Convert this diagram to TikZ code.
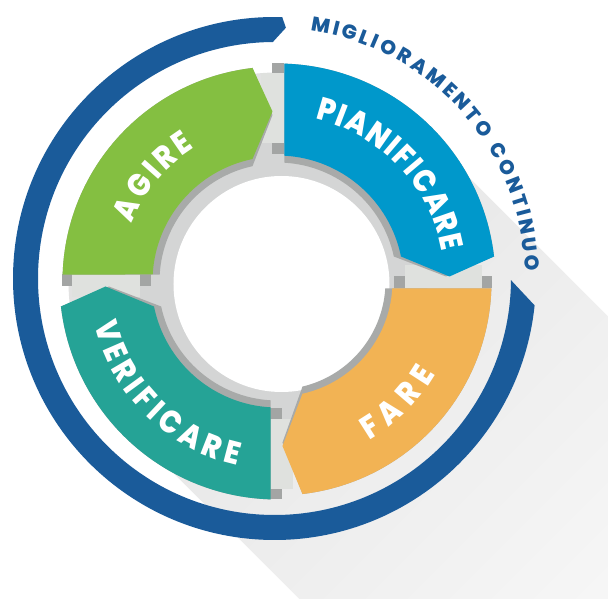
\documentclass[tikz,border=0pt]{standalone}
\usepackage{fontspec}
\setmainfont{Poppins}
\newfontfamily\heavyfont{Poppins ExtraBold}
\newfontfamily\heavynarrow{Poppins ExtraBold}[FakeStretch=0.88]
\usetikzlibrary{decorations.text}

\definecolor{ringblue}{RGB}{26,91,154}
\definecolor{planblue}{RGB}{0,152,203}
\definecolor{doorange}{RGB}{242,179,84}
\definecolor{checkteal}{RGB}{37,163,150}
\definecolor{actgreen}{RGB}{132,191,65}
\definecolor{hubgray}{RGB}{212,213,213}
\definecolor{bridgelight}{RGB}{223,225,222}
\definecolor{bridgedark}{RGB}{163,165,164}
\definecolor{segshadow}{RGB}{168,170,169}
\definecolor{castA}{RGB}{225,225,225}
\definecolor{castB}{RGB}{249,249,249}

% One ring segment, drawn in the frame of the top-right quadrant:
% flat start edge on x=7, pointed end around y=5.  #1 colour, #2 inner r, #3 outer r
\newcommand\segfill[3]{%
  \pgfmathsetmacro\aOF{acos(7/#3)}%
  \pgfmathsetmacro\aIF{acos(7/#2)}%
  \pgfmathsetmacro\aOC{asin(25/#3)}%
  \pgfmathsetmacro\aIC{asin(25/#2)}%
  \pgfmathsetmacro\rTip{(#2+#3)/2}%
  \fill[#1] (\aOF:#3) arc[start angle=\aOF, end angle=\aOC, radius=#3]
    -- (\rTip,5) -- (\aIC:#2) arc[start angle=\aIC, end angle=\aIF, radius=#2] -- cycle;
}

% Grey link in front of a segment's flat edge.  #1 inner r, #2 outer r
\newcommand\linkfill[2]{%
  \fill[bridgelight] (-16,#1+12) rectangle (7,#2-10);
  \fill[bridgedark] (-5,#2-10) rectangle (7,#2);
  \fill[bridgedark] (-5,#1+1) rectangle (7,#1+12);
}

\tikzset{
  seglabel/.style={decorate, decoration={text along path, text align={fit to path},
      text color=white, text={|\heavynarrow\fontsize{32}{32}\selectfont|#1}}},
  ringlabel/.style={decorate, decoration={text along path, text align={fit to path},
      text color=ringblue, text={|\heavyfont\fontsize{20}{20}\selectfont|#1}}}
}

\begin{document}
\begin{tikzpicture}[x=1pt,y=1pt]
\useasboundingbox (-277.5,-317.5) rectangle (330.5,281.5);
\fill[white] (-277.5,-317.5) rectangle (330.5,281.5);

% long cast shadow towards the lower right
\begin{scope}
  \clip (-277.5,-317.5) rectangle (330.5,281.5);
  \shade[top color=castA, bottom color=castB, shading angle=45]
    (45:209) arc[start angle=45, end angle=225, radius=209]
    -- ++(-45:480) -- ++(45:418) -- cycle;
\end{scope}

% outer arrow ring and its caption
\begin{scope}[shift={(-3,3)}]
  \fill[ringblue] (88.3:261.5) arc[start angle=88.3, end angle=354.1, radius=261.5]
    -- (359.6:236.5) arc[start angle=359.6, end angle=90.4, radius=236.5]
    -- (87.4:251) -- cycle;
  \path[ringlabel={MIGLIORAMENTO CONTINUO}]
    (81.8:250.5) arc[start angle=81.8, end angle=1.6, radius=250.5];
\end{scope}

% hub
\fill[hubgray] (0,0) circle[radius=150];
\fill[white] (4,-2.5) circle[radius=108];

% links between segments
\begin{scope}[rotate=0]\linkfill{126}{218}\end{scope}
\begin{scope}[rotate=-90]\linkfill{115}{214}\end{scope}
\begin{scope}[rotate=-180]\linkfill{126}{218}\end{scope}
\begin{scope}[rotate=-270]\linkfill{125}{215}\end{scope}

% segment shadows
\begin{scope}[rotate=0]\segfill{segshadow}{119}{218}\end{scope}
\begin{scope}[rotate=-90]\segfill{segshadow}{108}{214}\end{scope}
\begin{scope}[rotate=-180]\segfill{segshadow}{119}{218}\end{scope}
\begin{scope}[rotate=-270]\segfill{segshadow}{118}{215}\end{scope}

% segments
\begin{scope}[rotate=0]\segfill{planblue}{126}{218}\end{scope}
\begin{scope}[rotate=-90]\segfill{doorange}{115}{214}\end{scope}
\begin{scope}[rotate=-180]\segfill{checkteal}{126}{218}\end{scope}
\begin{scope}[rotate=-270]\segfill{actgreen}{125}{215}\end{scope}

% segment labels
\path[seglabel={PIANIFICARE}] (77:167) arc[start angle=77, end angle=10.2, radius=167];
\path[seglabel={FARE}] (-60:183) arc[start angle=-60, end angle=-30.4, radius=183];
\path[seglabel={VERIFICARE}] (193.2:188) arc[start angle=193.2, end angle=257.6, radius=188];
\path[seglabel={AGIRE}] (158.2:157) arc[start angle=158.2, end angle=121.8, radius=157];
\end{tikzpicture}
\end{document}
